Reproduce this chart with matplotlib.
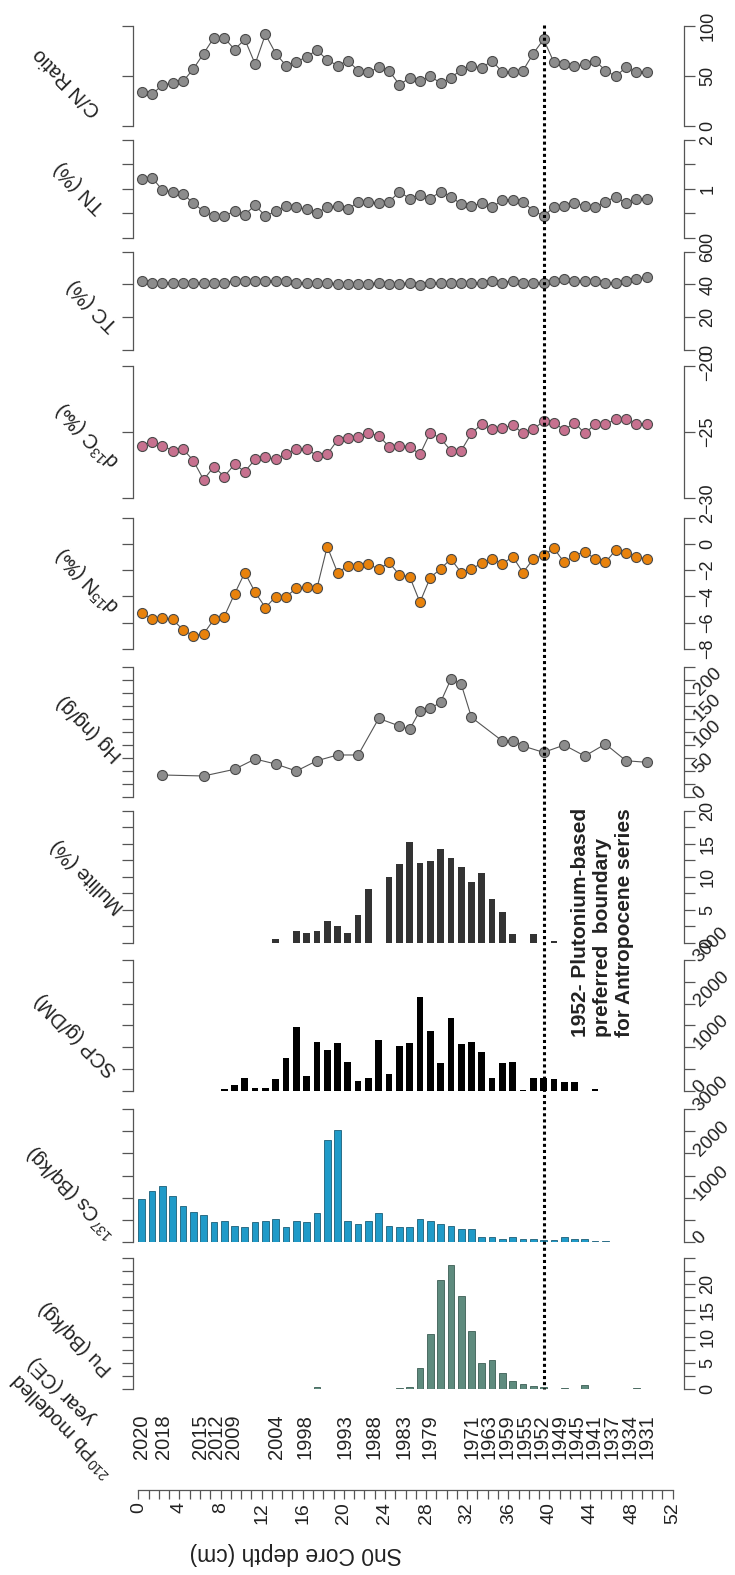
import matplotlib
matplotlib.use('Agg')
import matplotlib.pyplot as plt
import matplotlib.transforms as mtransforms
from matplotlib.ticker import FixedLocator
from matplotlib.lines import Line2D

plt.rcParams['font.family'] = ['Liberation Sans', 'DejaVu Sans']
plt.rcParams['mathtext.fontset'] = 'custom'
plt.rcParams['mathtext.rm'] = 'Liberation Sans'
plt.rcParams['mathtext.it'] = 'Liberation Sans:italic'
plt.rcParams['mathtext.bf'] = 'Liberation Sans:bold'

# ---------------- data ----------------
depth = [0.5 + k for k in range(50)]

cn_ratio = [33.9, 31.9, 40.9, 43.0, 44.6, 57.0, 72.5, 88.3, 88.3, 76.5,
            86.6, 62.0, 91.6, 72.5, 60.4, 63.8, 69.5, 75.8, 66.1, 60.4,
            65.4, 55.4, 53.7, 58.7, 55.4, 41.3, 48.0, 44.6, 49.7, 43.0,
            48.0, 56.4, 60.4, 58.0, 65.4, 53.7, 53.7, 55.4, 72.5, 86.6,
            63.8, 62.0, 59.7, 62.0, 65.4, 55.4, 49.7, 58.7, 53.7, 53.7]

tn_pct = [1.19, 1.23, 0.97, 0.94, 0.90, 0.70, 0.54, 0.44, 0.44, 0.54,
          0.47, 0.66, 0.44, 0.54, 0.65, 0.62, 0.58, 0.51, 0.62, 0.65,
          0.58, 0.73, 0.73, 0.70, 0.73, 0.94, 0.80, 0.88, 0.80, 0.94,
          0.84, 0.68, 0.65, 0.70, 0.62, 0.77, 0.77, 0.73, 0.55, 0.44,
          0.62, 0.65, 0.70, 0.65, 0.62, 0.73, 0.84, 0.70, 0.80, 0.80]

tc_pct = [42.3, 41.1, 41.1, 41.1, 41.1, 41.1, 41.1, 41.1, 41.1, 42.3,
          42.3, 42.3, 42.3, 42.3, 42.3, 41.1, 41.1, 41.1, 41.1, 40.3,
          40.3, 40.3, 40.3, 41.1, 40.3, 40.3, 41.1, 39.7, 41.1, 41.1,
          41.1, 41.1, 41.1, 41.1, 42.3, 41.1, 42.3, 41.1, 41.1, 40.7,
          42.3, 43.5, 42.3, 42.3, 42.3, 41.1, 41.1, 42.3, 43.5, 44.3]

d13c = [-26.02, -25.72, -26.02, -26.40, -26.27, -27.15, -28.60, -27.60, -28.36, -27.43,
        -27.98, -27.05, -26.90, -27.05, -26.65, -26.27, -26.27, -26.78, -26.68, -25.59,
        -25.47, -25.34, -25.09, -25.26, -26.10, -26.02, -26.10, -26.68, -25.04, -25.47,
        -26.40, -26.40, -25.09, -24.38, -24.79, -24.71, -24.46, -25.09, -24.79, -24.16,
        -24.28, -24.84, -24.28, -25.09, -24.41, -24.41, -24.03, -24.03, -24.38, -24.38]

d15n = [-5.23, -5.74, -5.61, -5.74, -6.55, -6.98, -6.85, -5.74, -5.53, -3.81,
        -2.18, -3.68, -4.85, -4.01, -4.01, -3.38, -3.25, -3.38, -0.20, -2.18,
        -1.68, -1.68, -1.52, -1.93, -1.40, -2.36, -2.49, -4.44, -2.56, -1.90,
        -1.14, -2.18, -1.90, -1.47, -1.14, -1.52, -0.96, -2.18, -1.14, -0.84,
        -0.33, -1.40, -0.89, -0.58, -1.14, -1.40, -0.46, -0.71, -0.96, -1.14]

hg_idx = [2, 6, 9, 11, 13, 15, 17, 19, 21, 23, 25, 26, 27, 28, 29, 30, 31, 32,
          35, 36, 37, 39, 41, 43, 45, 47, 49]
hg_ngg = [42.7, 40.8, 53.6, 73.3, 63.7, 50.3, 70.0, 81.0, 81.0, 151.0, 136.5, 130.0,
          165.8, 170.0, 181.8, 226.0, 216.8, 153.0, 107.8, 108.4, 98.2, 86.0, 100.0,
          79.0, 102.0, 70.0, 67.0]

mullite_idx = [13, 15, 16, 17, 18, 19, 20, 21, 22, 24, 25, 26, 27, 28, 29, 30,
               31, 32, 33, 34, 35, 36, 38, 40]
mullite_pct = [0.5, 1.8, 1.5, 1.8, 3.3, 2.6, 1.5, 4.2, 8.1, 10.0, 11.9, 15.3,
               12.1, 12.4, 14.2, 12.8, 11.5, 9.2, 10.5, 6.6, 4.7, 1.3, 1.3, 0.25]

scp_idx = [8, 9, 10, 11, 12, 13, 14, 15, 16, 17, 18, 19, 20, 21, 22, 23, 24, 25,
           26, 27, 28, 29, 30, 31, 32, 33, 34, 35, 36, 37, 38, 39, 40, 41, 42, 44]
scp_gdm = [30, 130, 283, 54, 54, 260, 742, 1454, 337, 1125, 934, 1102, 666, 222,
           283, 1163, 383, 1025, 1102, 2143, 1378, 628, 1661, 1071, 1125, 895,
           298, 643, 666, 10, 298, 283, 260, 191, 191, 30]

cs_bqkg = [961, 1156, 1269, 1042, 809, 680, 605, 440, 476, 363,
           326, 440, 476, 511, 326, 476, 440, 642, 2304, 2531,
           476, 401, 476, 642, 363, 326, 326, 514, 476, 401,
           363, 287, 287, 115, 115, 60, 98, 60, 60, 38,
           38, 98, 60, 60, 18, 18]

pu_idx = [17, 25, 26, 27, 28, 29, 30, 31, 32, 33, 34, 35, 36, 37, 38, 39, 41, 43, 48]
pu_bqkg = [0.5, 0.2, 0.4, 4.0, 10.5, 20.7, 23.6, 17.7, 11.1, 5.0, 5.5, 3.0,
           1.5, 1.0, 0.6, 0.4, 0.2, 0.8, 0.2]

year_labels = ['2020', '2018', '2015', '2012', '2009', '2004', '1998', '1993', '1988',
               '1983', '1979', '1971', '1963', '1959', '1955', '1952', '1949', '1945',
               '1941', '1937', '1934', '1931']
year_depths = [0.49, 2.59, 6.15, 7.77, 9.38, 13.6, 16.34, 20.22, 23.04, 25.95, 28.47,
               32.55, 34.25, 35.95, 37.65, 39.35, 41.05, 42.74, 44.44, 46.14, 47.84, 49.54]

boundary_depth = 39.5
depth_ticks = list(range(0, 53, 4))

# ---------------- figure ----------------
W, H = 735, 1575
fig = plt.figure(figsize=(W / 100, H / 100), dpi=100)
XLIM = (-0.354, 53.13)
AX_L, AX_R = 133, 684
SPINE_C = '#555555'


def make_ax(top, bottom, ylim, major, minor, rot):
    ax = fig.add_axes([AX_L / W, 1 - bottom / H, (AX_R - AX_L) / W, (bottom - top) / H])
    ax.set_xlim(XLIM)
    ax.set_ylim(ylim)
    ax.patch.set_alpha(0)
    for s in ['top', 'bottom']:
        ax.spines[s].set_visible(False)
    for s in ['left', 'right']:
        ax.spines[s].set_color(SPINE_C)
        ax.spines[s].set_linewidth(0.9)
    ax.tick_params(axis='x', bottom=False, labelbottom=False)
    ax.yaxis.set_major_locator(FixedLocator(major))
    ax.yaxis.set_minor_locator(FixedLocator(minor))
    ax.tick_params(axis='y', which='both', left=True, right=True, labelleft=False,
                   labelright=True, direction='out', length=8, width=0.9,
                   color=SPINE_C, labelsize=13.5 if rot == 45 else 13, pad=3 if rot == 90 else 1)
    for lab in ax.get_yticklabels():
        lab.set_rotation(rot)
        lab.set_va('center')
        lab.set_ha('left')
        lab.set_color('#222222')
        if rot == 45:
            lab.set_rotation_mode('anchor')
    return ax


def line_panel(ax, xs, ys, fc):
    ax.plot(xs, ys, '-', color='#555555', lw=0.8, marker='o', ms=7.2,
            mfc=fc, mec='#4a4a4a', mew=0.8, clip_on=False, zorder=3)


# C/N
ax = make_ax(26, 126, (0, 100), [0, 50, 100], [], 90)
line_panel(ax, depth, cn_ratio, '#8c8c8c')
# TN
ax = make_ax(140, 237.5, (0, 2), [0, 1, 2], [0.5, 1.5], 90)
line_panel(ax, depth, tn_pct, '#8c8c8c')
# TC
ax = make_ax(251.7, 350, (0, 60), [0, 20, 40, 60], [], 90)
line_panel(ax, depth, tc_pct, '#8c8c8c')
# d13C
ax = make_ax(366, 498.3, (-30, -20), [-30, -25, -20], [], 90)
line_panel(ax, depth, d13c, '#c7718f')
# d15N
ax = make_ax(517.7, 649, (-8, 2), [-8, -6, -4, -2, 0, 2], [], 90)
line_panel(ax, depth, d15n, '#e8820c')
# Hg
ax = make_ax(666.7, 797.3, (0, 250), [0, 50, 100, 150, 200], [25, 75, 125, 175, 225, 250], 45)
line_panel(ax, [depth[i] for i in hg_idx], hg_ngg, '#8c8c8c')
# Mullite
ax = make_ax(810.7, 942.7, (0, 20), [0, 5, 10, 15, 20], [2.5, 7.5, 12.5, 17.5], 90)
ax.bar([depth[i] for i in mullite_idx], mullite_pct, width=0.65, color='#333333', lw=0)
# SCP
ax = make_ax(960, 1090.7, (0, 3000), [0, 1000, 2000, 3000], [500, 1500, 2500], 45)
ax.bar([depth[i] for i in scp_idx], scp_gdm, width=0.65, color='#000000', lw=0)
# Cs
ax = make_ax(1109.3, 1241.7, (0, 3000), [0, 1000, 2000, 3000], [500, 1500, 2500], 45)
ax.bar(depth[:len(cs_bqkg)], cs_bqkg, width=0.65, color='#1f9ac8', edgecolor='#1b5f78', lw=0.6)
# Pu
ax_pu = make_ax(1257.5, 1389.3, (0, 25), [0, 5, 10, 15, 20],
                [2.5, 7.5, 12.5, 17.5, 22.5, 25], 90)
ax_pu.bar([depth[i] for i in pu_idx], pu_bqkg, width=0.65, color='#5e8b7e', edgecolor='#3c5e54', lw=0.6)

# boundary dotted line
blend = mtransforms.blended_transform_factory(ax_pu.transData, fig.transFigure)
fig.add_artist(Line2D([boundary_depth, boundary_depth], [1 - 25 / H, 1 - 1389 / H],
                      transform=blend, color='black', lw=2.2, dashes=(1, 1), zorder=10))

fig.text(571 / W, 1 - 1037 / H,
         '1952- Plutonium-based\npreferred  boundary\nfor Antropocene series',
         transform=fig.transFigure, rotation=90, rotation_mode='anchor',
         ha='left', va='top', fontsize=15, fontweight='bold', linespacing=1.2,
         color='#222222')

# panel labels
panel_labels = [
    ('C/N Ratio', 67, 82),
    ('TN (%)', 80, 187),
    ('TC (%)', 93, 305),
    ('d$^{13}$C (‰)', 88, 435),
    ('d$^{15}$N (‰)', 88, 580),
    ('Hg (ng/g)', 90, 728),
    ('Mullite (%)', 88, 876),
    ('SCP (g/DM)', 76, 1035),
    ('$^{137}$Cs (Bq/kg)', 72, 1192),
    ('Pu (Bq/kg)', 76, 1338),
]
for txt, px, py in panel_labels:
    fig.text(px / W, 1 - py / H, txt, rotation=135, rotation_mode='anchor',
             ha='center', va='center', fontsize=14.5, color='#222222')
fig.text(71 / W, 1 - 1417 / H, '$^{210}$Pb modelled\nyear (CE)', rotation=135,
         rotation_mode='anchor', ha='center', va='center', fontsize=14.5,
         color='#222222', multialignment='right')

# year labels
for lab, d in zip(year_labels, year_depths):
    fig.text(d, 1 - 1437 / H, lab, transform=blend, rotation=90, ha='center',
             va='center', fontsize=14.5, color='#222222')

# depth axis
ax_d = fig.add_axes([138.3 / W, 1 - 1490 / H, (672.7 - 138.3) / W, 0.0005])
ax_d.set_xlim(0, 52)
ax_d.patch.set_alpha(0)
for s in ['top', 'left', 'right']:
    ax_d.spines[s].set_visible(False)
ax_d.spines['bottom'].set_color(SPINE_C)
ax_d.spines['bottom'].set_linewidth(0.9)
ax_d.set_yticks([])
ax_d.xaxis.set_major_locator(FixedLocator(depth_ticks))
ax_d.xaxis.set_minor_locator(FixedLocator(list(range(0, 53))))
ax_d.tick_params(axis='x', which='both', direction='out', length=6.5, width=0.9,
                 color=SPINE_C, labelsize=14, pad=2)
for lab in ax_d.get_xticklabels():
    lab.set_rotation(90)
    lab.set_color('#222222')
fig.text(296 / W, 1 - 1553 / H, 'Sn0 Core depth (cm)', rotation=180, ha='center',
         va='center', fontsize=16.5, color='#222222')

fig.savefig('out.png', dpi=100)
